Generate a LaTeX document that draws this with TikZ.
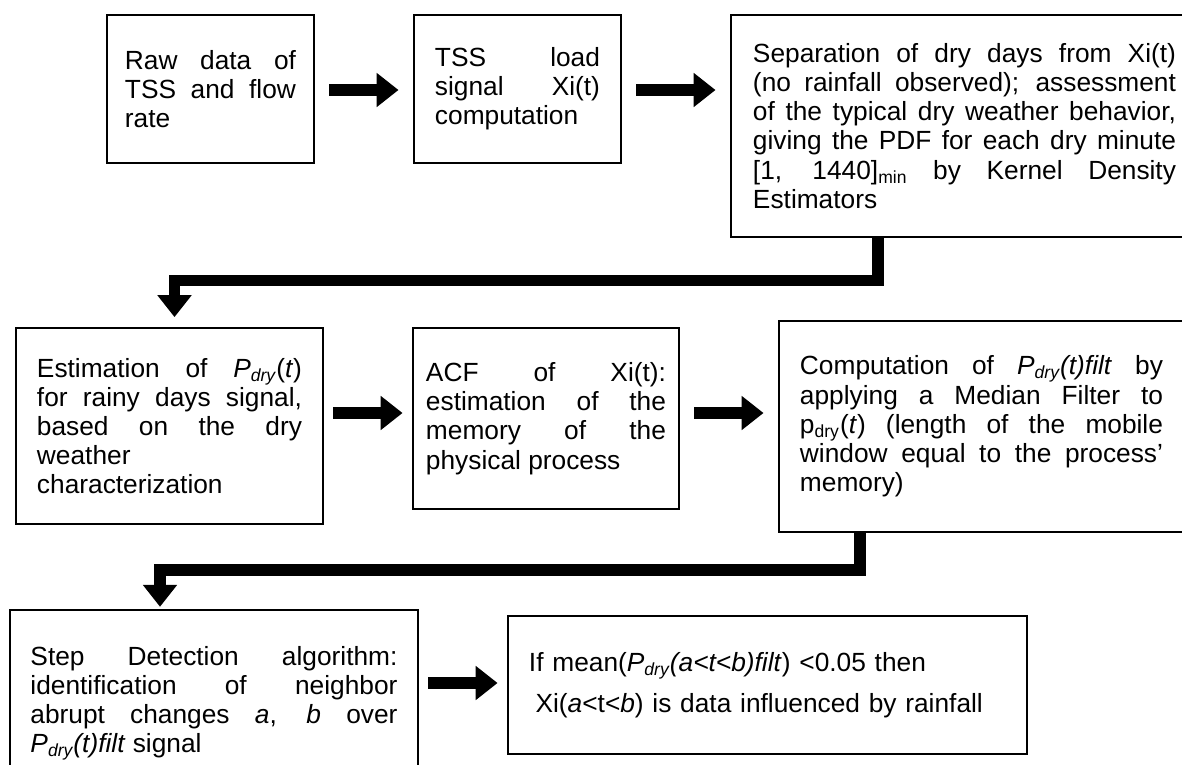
\documentclass[tikz,border=0pt]{standalone}
\usepackage{fontspec}
\setmainfont{Liberation Sans}
\usetikzlibrary{arrows.meta}

\newcommand{\subtxt}[1]{\textsubscript{#1}}

\begin{document}
\begin{tikzpicture}[x=0.4563pt, y=-0.4563pt,
  box/.style={draw, line width=0.9pt, anchor=north west, align=justify,
    inner ysep=0pt, font=\fontsize{12}{13.3}\selectfont},
  fat/.style={line width=5.9pt, -{Triangle[length=10pt, width=15pt]}},
  elbow/.style={line width=5.3pt, -{Triangle[length=10pt, width=15pt]}},
  gapwide/.style={shorten <=6.6pt, shorten >=6.6pt},
  gapnarrow/.style={shorten <=4.3pt, shorten >=4.3pt}]

  \path[use as bounding box] (0,0) rectangle (1182,764);
  \clip (0,0) rectangle (1182,764);

  \node (raw) [box, text width=78.03pt, inner xsep=8.21pt, minimum height=67.53pt] at (106,14)
    {Raw data of\linebreak TSS and flow\linebreak rate};
  \node (load) [box, text width=75.29pt, inner xsep=9.58pt, minimum height=67.53pt] at (413,14)
    {TSS load\linebreak signal Xi(t)\linebreak computation};
  \node (sep) [box, text width=193.01pt, inner xsep=10.04pt, minimum height=101.3pt] at (730,14)
    {Separation of dry days from Xi(t)\linebreak (no rainfall observed); assessment\linebreak
     of the typical dry weather behavior,\linebreak giving the PDF for each dry minute\linebreak\relax
     [1, 1440]\subtxt{min} by Kernel Density\linebreak Estimators};

  \node (est) [box, text width=120.92pt, inner xsep=9.58pt, minimum height=89.43pt] at (15,327)
    {Estimation of \textit{P\subtxt{dry}}(\textit{t})\linebreak for rainy days signal,\linebreak
     based on the dry\linebreak weather\newline characterization};
  \node (acf) [box, text width=109.51pt, inner xsep=5.93pt, minimum height=82.59pt] at (412,327)
    {ACF of Xi(t):\linebreak estimation of the\linebreak memory of the\linebreak physical process};
  \node (filt) [box, text width=165.64pt, inner xsep=9.58pt, minimum height=96.28pt] at (778,320)
    {Computation of \textit{P\subtxt{dry}(t)filt} by\linebreak applying a Median Filter to\linebreak
     p\subtxt{dry}(\textit{t}) (length of the mobile\linebreak window equal to the process'\linebreak memory)};

  \node (step) [box, text width=167.46pt, inner xsep=9.35pt, minimum height=84.87pt] at (9,609)
    {Step Detection algorithm:\linebreak identification of neighbor\linebreak
     abrupt changes \textit{a}, \textit{b} over\linebreak \textit{P\subtxt{dry}(t)filt} signal};
  \node (rain) [box, align=left, text width=217.66pt, inner xsep=9.58pt, minimum height=62.97pt] at (507,615)
    {If mean(\textit{P\subtxt{dry}(a<t<b)filt}) <0.05 then\\[5.6pt]
     \hspace*{0.25em}Xi(\textit{a}<t<\textit{b}) is data influenced by rainfall};

  \coordinate (r1) at (0,90);
  \coordinate (r2) at (0,413);
  \coordinate (r3) at (0,683);
  \coordinate (k1) at (878,280.5);
  \coordinate (k2) at (174.5,280.5);
  \coordinate (k3) at (860,570);
  \coordinate (k4) at (160,570);

  \draw[fat, gapwide] (raw.east |- r1) -- (load.west |- r1);
  \draw[fat, gapwide] (load.east |- r1) -- (sep.west |- r1);
  \draw[elbow, shorten >=4.5pt] (sep.south -| k1) -- (k1) -- (k2) -- (est.north -| k2);
  \draw[fat, gapnarrow] (est.east |- r2) -- (acf.west |- r2);
  \draw[fat, gapwide] (acf.east |- r2) -- (filt.west |- r2);
  \draw[elbow, shorten >=1pt] (filt.south -| k3) -- (k3) -- (k4) -- (step.north -| k4);
  \draw[fat, gapnarrow] (step.east |- r3) -- (rain.west |- r3);

\end{tikzpicture}
\end{document}
